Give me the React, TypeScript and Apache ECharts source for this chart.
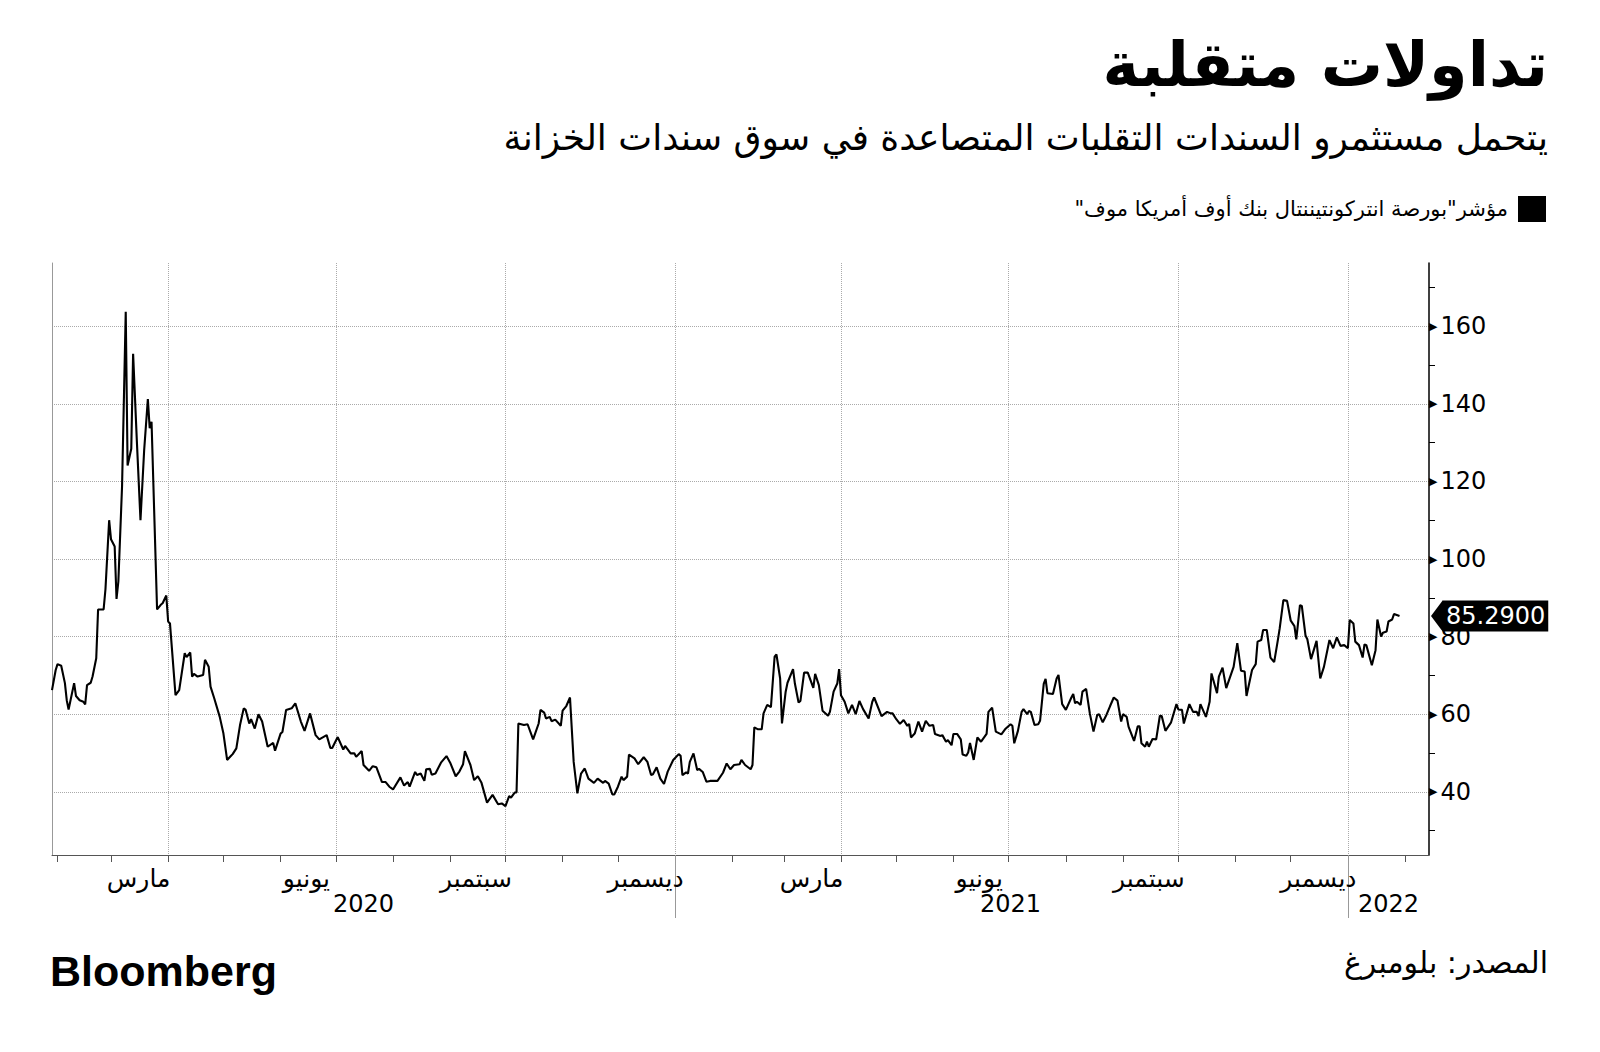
import React, { useEffect, useRef } from 'react';
import * as echarts from 'echarts';

// MOVE index (ICE BofAML MOVE)
const moveIndex: [string, number][] = [
  ['2020-01-29', 66.2], ['2020-01-31', 71.4], ['2020-02-01', 72.9], ['2020-02-03', 72.5],
  ['2020-02-05', 68], ['2020-02-06', 63.6], ['2020-02-07', 61.2], ['2020-02-10', 68],
  ['2020-02-11', 64.7], ['2020-02-13', 63.6], ['2020-02-15', 63.2], ['2020-02-16', 62.5],
  ['2020-02-17', 67.5], ['2020-02-19', 68.1], ['2020-02-20', 69.7], ['2020-02-22', 74.4],
  ['2020-02-23', 87], ['2020-02-26', 87], ['2020-02-27', 92.2], ['2020-02-29', 110],
  ['2020-03-01', 105.1], ['2020-03-03', 103.2], ['2020-03-04', 89.7], ['2020-03-05', 94.2],
  ['2020-03-07', 118.7], ['2020-03-09', 163.7], ['2020-03-10', 124.1], ['2020-03-12', 128.4],
  ['2020-03-13', 152.9], ['2020-03-15', 130.7], ['2020-03-17', 110], ['2020-03-19', 128.1],
  ['2020-03-21', 141.2], ['2020-03-22', 133.7], ['2020-03-23', 135.4], ['2020-03-26', 87],
  ['2020-03-28', 88.2], ['2020-03-29', 88.6], ['2020-03-31', 90.6], ['2020-04-01', 83.9],
  ['2020-04-02', 83.4], ['2020-04-05', 64.9], ['2020-04-07', 66.2], ['2020-04-10', 75.7],
  ['2020-04-11', 74.7], ['2020-04-13', 75.9], ['2020-04-14', 69.7], ['2020-04-15', 70.4],
  ['2020-04-17', 69.7], ['2020-04-20', 70.1], ['2020-04-21', 74], ['2020-04-23', 72.2],
  ['2020-04-24', 67.1], ['2020-04-26', 64.1], ['2020-04-29', 59.3], ['2020-05-01', 55],
  ['2020-05-03', 48.2], ['2020-05-05', 49.2], ['2020-05-06', 49.7], ['2020-05-08', 51.2],
  ['2020-05-10', 57.2], ['2020-05-12', 61.5], ['2020-05-13', 61.2], ['2020-05-15', 57.6],
  ['2020-05-16', 58.7], ['2020-05-18', 56.3], ['2020-05-20', 60], ['2020-05-22', 58.1],
  ['2020-05-25', 51.6], ['2020-05-28', 52.6], ['2020-05-29', 50.6], ['2020-06-01', 55],
  ['2020-06-02', 55.4], ['2020-06-04', 61.1], ['2020-06-07', 61.5], ['2020-06-09', 62.8],
  ['2020-06-12', 58.1], ['2020-06-14', 55.7], ['2020-06-17', 60.2], ['2020-06-20', 54.6],
  ['2020-06-22', 53.5], ['2020-06-26', 54.6], ['2020-06-28', 51.3], ['2020-06-29', 51.3],
  ['2020-07-02', 54.1], ['2020-07-05', 50.9], ['2020-07-06', 51.8], ['2020-07-09', 49.9],
  ['2020-07-11', 49.9], ['2020-07-12', 49], ['2020-07-15', 50.5], ['2020-07-16', 46.9],
  ['2020-07-19', 45.4], ['2020-07-21', 46.6], ['2020-07-23', 46.3], ['2020-07-26', 42.5],
  ['2020-07-28', 42.5], ['2020-07-30', 41.3], ['2020-08-01', 40.6], ['2020-08-05', 43.7],
  ['2020-08-07', 41.6], ['2020-08-09', 42.5], ['2020-08-10', 41.3], ['2020-08-13', 45.1],
  ['2020-08-14', 44.3], ['2020-08-16', 44.7], ['2020-08-18', 42.8], ['2020-08-19', 45.8],
  ['2020-08-21', 45.9], ['2020-08-22', 44.4], ['2020-08-24', 44.7], ['2020-08-27', 47.5],
  ['2020-08-30', 49.2], ['2020-09-01', 47.5], ['2020-09-04', 44], ['2020-09-06', 45.2],
  ['2020-09-08', 47.1], ['2020-09-09', 50.5], ['2020-09-12', 46.9], ['2020-09-14', 43],
  ['2020-09-16', 44], ['2020-09-18', 42.3], ['2020-09-21', 37.2], ['2020-09-24', 39.2],
  ['2020-09-27', 36.8], ['2020-09-29', 37], ['2020-10-01', 36.3], ['2020-10-03', 38.9],
  ['2020-10-04', 38.5], ['2020-10-06', 39.8], ['2020-10-07', 39.8], ['2020-10-08', 57.6],
  ['2020-10-11', 57.2], ['2020-10-13', 57.4], ['2020-10-16', 53.5], ['2020-10-19', 57.6],
  ['2020-10-20', 61.1], ['2020-10-22', 60.4], ['2020-10-23', 58.9], ['2020-10-25', 59.3],
  ['2020-10-26', 58.2], ['2020-10-28', 58.6], ['2020-10-31', 57], ['2020-11-01', 60.9],
  ['2020-11-03', 62.1], ['2020-11-05', 64.3], ['2020-11-07', 47.7], ['2020-11-09', 39.6],
  ['2020-11-11', 44.7], ['2020-11-13', 46], ['2020-11-15', 43.4], ['2020-11-18', 42.3],
  ['2020-11-20', 43.4], ['2020-11-23', 42.3], ['2020-11-24', 42.8], ['2020-11-26', 42.1],
  ['2020-11-28', 39.3], ['2020-11-29', 39.3], ['2020-12-01', 41.3], ['2020-12-03', 43.9],
  ['2020-12-04', 43], ['2020-12-06', 43.9], ['2020-12-07', 49.6], ['2020-12-10', 48.6],
  ['2020-12-12', 47.1], ['2020-12-15', 48.9], ['2020-12-17', 47.7], ['2020-12-19', 44.3],
  ['2020-12-20', 44.5], ['2020-12-22', 46.3], ['2020-12-24', 43.4], ['2020-12-26', 42],
  ['2020-12-28', 45.2], ['2020-12-31', 48.2], ['2021-01-03', 49.7], ['2021-01-04', 49.3],
  ['2021-01-05', 44.3], ['2021-01-07', 45], ['2021-01-08', 44.7], ['2021-01-09', 47.7],
  ['2021-01-11', 49.9], ['2021-01-13', 45.6], ['2021-01-14', 45.9], ['2021-01-16', 45.1],
  ['2021-01-18', 42.6], ['2021-01-20', 42.8], ['2021-01-24', 42.8], ['2021-01-27', 44.9],
  ['2021-01-29', 47.3], ['2021-01-31', 45.8], ['2021-02-02', 46.9], ['2021-02-05', 47.1],
  ['2021-02-06', 48.2], ['2021-02-08', 46.9], ['2021-02-11', 45.8], ['2021-02-12', 46.9],
  ['2021-02-13', 56.6], ['2021-02-15', 56.1], ['2021-02-17', 56.1], ['2021-02-18', 60.2],
  ['2021-02-20', 62.4], ['2021-02-22', 61.8], ['2021-02-24', 74.8], ['2021-02-25', 75.4],
  ['2021-02-27', 69.2], ['2021-02-28', 57.6], ['2021-03-02', 65.8], ['2021-03-03', 68.1],
  ['2021-03-06', 71.6], ['2021-03-07', 67.9], ['2021-03-09', 63], ['2021-03-10', 63.4],
  ['2021-03-12', 70.7], ['2021-03-14', 70.7], ['2021-03-17', 66.8], ['2021-03-18', 70.4],
  ['2021-03-20', 67.5], ['2021-03-22', 60.9], ['2021-03-25', 59.6], ['2021-03-26', 60.6],
  ['2021-03-28', 65.8], ['2021-03-30', 67.9], ['2021-03-31', 71.6], ['2021-04-01', 64.9],
  ['2021-04-03', 63.2], ['2021-04-05', 60.2], ['2021-04-07', 62.4], ['2021-04-09', 60],
  ['2021-04-11', 63.4], ['2021-04-13', 61.3], ['2021-04-16', 58.9], ['2021-04-18', 63.2],
  ['2021-04-19', 64.3], ['2021-04-23', 59.5], ['2021-04-26', 60.6], ['2021-04-28', 60.2],
  ['2021-04-29', 60.2], ['2021-05-01', 58.7], ['2021-05-03', 57.5], ['2021-05-05', 58.5],
  ['2021-05-07', 57], ['2021-05-08', 57.5], ['2021-05-09', 54], ['2021-05-11', 55],
  ['2021-05-13', 58.1], ['2021-05-15', 55.5], ['2021-05-17', 58.3], ['2021-05-19', 57],
  ['2021-05-21', 57.2], ['2021-05-22', 54.9], ['2021-05-25', 54.4], ['2021-05-26', 54.6],
  ['2021-05-28', 52.9], ['2021-05-29', 53.3], ['2021-05-31', 52], ['2021-06-01', 54.9],
  ['2021-06-03', 54.9], ['2021-06-05', 53.5], ['2021-06-06', 49.6], ['2021-06-08', 49.3],
  ['2021-06-09', 50.1], ['2021-06-10', 52.6], ['2021-06-12', 48.2], ['2021-06-14', 54],
  ['2021-06-16', 52.9], ['2021-06-19', 54.9], ['2021-06-20', 60.6], ['2021-06-22', 61.7],
  ['2021-06-24', 55.5], ['2021-06-27', 54.8], ['2021-06-29', 56.1], ['2021-07-02', 57.4],
  ['2021-07-03', 57], ['2021-07-04', 52.5], ['2021-07-06', 55.7], ['2021-07-08', 60.6],
  ['2021-07-09', 61.3], ['2021-07-11', 60], ['2021-07-12', 60.8], ['2021-07-13', 60.6],
  ['2021-07-15', 57.2], ['2021-07-17', 57.4], ['2021-07-18', 58.3], ['2021-07-20', 67.8],
  ['2021-07-21', 69.1], ['2021-07-22', 65.4], ['2021-07-25', 65.2], ['2021-07-27', 69.2],
  ['2021-07-28', 70.1], ['2021-07-30', 62.6], ['2021-08-01', 61.1], ['2021-08-04', 64.3],
  ['2021-08-05', 65.2], ['2021-08-06', 62.8], ['2021-08-07', 63.2], ['2021-08-09', 62.4],
  ['2021-08-10', 65.8], ['2021-08-12', 66.5], ['2021-08-14', 60.2], ['2021-08-16', 55.5],
  ['2021-08-18', 59.8], ['2021-08-19', 60], ['2021-08-21', 57.9], ['2021-08-23', 59.8],
  ['2021-08-25', 62.1], ['2021-08-27', 64.3], ['2021-08-29', 63.5], ['2021-08-31', 58.1],
  ['2021-09-01', 60], ['2021-09-03', 59.3], ['2021-09-04', 56.8], ['2021-09-07', 53.1],
  ['2021-09-09', 56.9], ['2021-09-10', 56.9], ['2021-09-11', 52.5], ['2021-09-13', 51.6],
  ['2021-09-14', 52.9], ['2021-09-15', 51.6], ['2021-09-17', 53.6], ['2021-09-19', 53.5],
  ['2021-09-21', 59.6], ['2021-09-22', 59.5], ['2021-09-24', 55.7], ['2021-09-27', 57.8],
  ['2021-09-30', 62.6], ['2021-10-01', 61.2], ['2021-10-03', 61.1], ['2021-10-04', 57.6],
  ['2021-10-07', 62.6], ['2021-10-09', 60.6], ['2021-10-11', 60.6], ['2021-10-12', 59.5],
  ['2021-10-13', 62.6], ['2021-10-16', 59.3], ['2021-10-18', 63.2], ['2021-10-19', 70.5],
  ['2021-10-22', 65.4], ['2021-10-23', 69.7], ['2021-10-25', 72], ['2021-10-27', 66.7],
  ['2021-10-31', 72.2], ['2021-11-02', 78.3], ['2021-11-04', 71.2], ['2021-11-06', 71],
  ['2021-11-07', 64.7], ['2021-11-10', 71.4], ['2021-11-12', 72.9], ['2021-11-13', 78.7],
  ['2021-11-15', 79.1], ['2021-11-16', 81.7], ['2021-11-18', 81.7], ['2021-11-20', 74.6],
  ['2021-11-22', 73.4], ['2021-11-24', 79.1], ['2021-11-25', 82.1], ['2021-11-27', 89.4],
  ['2021-11-29', 89.2], ['2021-12-01', 84.1], ['2021-12-03', 82.7], ['2021-12-04', 79.3],
  ['2021-12-06', 88.1], ['2021-12-07', 87.9], ['2021-12-09', 80.3], ['2021-12-10', 79.3],
  ['2021-12-12', 74.2], ['2021-12-15', 78.9], ['2021-12-17', 69.2], ['2021-12-19', 72.2],
  ['2021-12-22', 79.1], ['2021-12-24', 77], ['2021-12-26', 79.8], ['2021-12-28', 77.6],
  ['2021-12-30', 77.8], ['2022-01-01', 77], ['2022-01-02', 84.3], ['2022-01-04', 83.4],
  ['2022-01-05', 78.7], ['2022-01-07', 77.8], ['2022-01-09', 74.6], ['2022-01-10', 78],
  ['2022-01-11', 77.8], ['2022-01-14', 72.6], ['2022-01-16', 76.5], ['2022-01-17', 84.4],
  ['2022-01-19', 80], ['2022-01-20', 81], ['2022-01-22', 81.3], ['2022-01-23', 83.9],
  ['2022-01-25', 84.4], ['2022-01-26', 85.8], ['2022-01-29', 85.29],
];

const seriesName = 'مؤشر"بورصة انتركونتيننتال بنك أوف أمريكا موف"\u200F';
const titleText = 'تداولات متقلبة';
const subtitleText = 'يتحمل مستثمرو السندات التقلبات المتصاعدة في سوق سندات الخزانة';
const sourceText = 'المصدر: بلومبرغ';
const brandText = 'Bloomberg';

const xMinDate = '2020-01-29';
const xMaxDate = '2022-02-14';
const yMin = 23.7;
const yMax = 176.3;

const quarterStarts = ['2020-04-01', '2020-07-01', '2020-10-01', '2021-01-01', '2021-04-01', '2021-07-01', '2021-10-01', '2022-01-01'];
const monthStarts = [
  '2020-02-01', '2020-03-01', '2020-04-01', '2020-05-01', '2020-06-01', '2020-07-01', '2020-08-01',
  '2020-09-01', '2020-10-01', '2020-11-01', '2020-12-01', '2021-01-01', '2021-02-01', '2021-03-01',
  '2021-04-01', '2021-05-01', '2021-06-01', '2021-07-01', '2021-08-01', '2021-09-01', '2021-10-01',
  '2021-11-01', '2021-12-01', '2022-01-01', '2022-02-01',
];
const monthLabelDates = ['2020-03-16', '2020-06-15', '2020-09-15', '2020-12-16', '2021-03-16', '2021-06-15', '2021-09-15', '2021-12-16'];
const monthLabelNames = ['مارس', 'يونيو', 'سبتمبر', 'ديسمبر', 'مارس', 'يونيو', 'سبتمبر', 'ديسمبر'];
const yearLabelDates = ['2020-07-16', '2021-07-02', '2022-01-23'];
const yearLabelNames = ['2020', '2021', '2022'];
const yearBreaks = ['2021-01-01', '2022-01-01'];
const yMajorTicks = [40, 60, 80, 100, 120, 140, 160];
const yMinorTicks = [30, 50, 70, 90, 110, 130, 150, 170];

const ts = (s: string) => {
  const [y, m, d] = s.split('-').map(Number);
  return new Date(y, m - 1, d).getTime();
};

export default function App() {
  const ref = useRef<HTMLDivElement>(null);

  useEffect(() => {
    if (!ref.current) return;
    const chart = echarts.init(ref.current, null, { renderer: 'svg' });
    const xMin = ts(xMinDate);
    const xMax = ts(xMaxDate);
    const monthMap: Record<number, string> = {};
    monthLabelDates.forEach((d, i) => (monthMap[ts(d)] = monthLabelNames[i]));
    const yearMap: Record<number, string> = {};
    yearLabelDates.forEach((d, i) => (yearMap[ts(d)] = yearLabelNames[i]));
    const lastValue = moveIndex[moveIndex.length - 1][1];
    const seriesData = moveIndex.map(([d, v]) => [ts(d), v]);
    const font = 'DejaVu Sans';

    const baseX = { type: 'value', min: xMin, max: xMax, position: 'bottom', gridIndex: 0, scale: true } as any;
    const baseY = { type: 'value', min: yMin, max: yMax, gridIndex: 0 } as any;

    chart.setOption({
      animation: false,
      backgroundColor: '#fff',
      textStyle: { fontFamily: font },
      grid: { left: 52, right: 171, top: 263, bottom: 197, containLabel: false },
      legend: {
        data: [seriesName],
        right: 54,
        top: 196,
        padding: 0,
        align: 'right',
        icon: 'rect',
        itemWidth: 28,
        itemHeight: 26,
        itemStyle: { color: '#000' },
        textStyle: { fontSize: 21, fontFamily: font, color: '#000', padding: [0, 5, 0, 0] },
        selectedMode: false,
      },
      xAxis: [
        {
          ...baseX,
          axisLine: { show: true, lineStyle: { color: '#555', width: 1 } },
          axisTick: { show: false, customValues: quarterStarts.map(ts) },
          splitLine: { show: true, lineStyle: { color: '#aaa', type: 'dotted', width: 1 } },
          axisLabel: {
            show: true,
            customValues: monthLabelDates.map(ts),
            formatter: (v: number) => monthMap[v] || '',
            fontSize: 25,
            fontFamily: font,
            color: '#000',
            margin: 11,
            align: 'center',
          },
        },
        {
          ...baseX,
          axisLine: { show: false },
          axisTick: { show: true, customValues: monthStarts.map(ts), length: 7, lineStyle: { color: '#555', width: 1 } },
          axisLabel: { show: false },
          splitLine: { show: false },
        },
        {
          ...baseX,
          axisLine: { show: false },
          axisTick: { show: true, customValues: yearBreaks.map(ts), length: 63, lineStyle: { color: '#999', width: 1 } },
          axisLabel: {
            show: true,
            customValues: yearLabelDates.map(ts),
            formatter: (v: number) => yearMap[v] || '',
            fontSize: 24,
            fontFamily: font,
            color: '#000',
            margin: 37,
            align: 'center',
          },
          splitLine: { show: false },
        },
      ],
      yAxis: [
        {
          ...baseY,
          position: 'right',
          axisLine: { show: true, lineStyle: { color: '#000', width: 1.5 } },
          axisTick: { show: false, customValues: yMajorTicks },
          splitLine: { show: true, lineStyle: { color: '#aaa', type: 'dotted', width: 1 } },
          axisLabel: {
            show: true,
            customValues: yMajorTicks,
            margin: 0,
            formatter: (v: number) => `{t|▶}{n|${v}}`,
            rich: {
              t: { fontSize: 11, color: '#000', fontFamily: font },
              n: { fontSize: 24, color: '#000', fontFamily: font, padding: [0, 0, 0, 3] },
            },
          },
        },
        {
          ...baseY,
          position: 'right',
          axisLine: { show: false },
          axisTick: { show: true, customValues: yMinorTicks, length: 6, lineStyle: { color: '#000', width: 1 } },
          axisLabel: { show: false },
          splitLine: { show: false },
        },
        {
          ...baseY,
          position: 'left',
          axisLine: { show: true, lineStyle: { color: '#999', width: 1 } },
          axisTick: { show: false },
          axisLabel: { show: false },
          splitLine: { show: false },
        },
      ],
      series: [
        {
          name: seriesName,
          type: 'line',
          xAxisIndex: 0,
          yAxisIndex: 0,
          data: seriesData,
          showSymbol: false,
          symbol: 'none',
          lineStyle: { color: '#000', width: 2.1 },
          itemStyle: { color: '#000' },
          silent: true,
          markPoint: {
            silent: true,
            symbol: 'path://M0,16L12,0L12,32Z',
            symbolSize: [12, 32],
            symbolKeepAspect: false,
            itemStyle: { color: '#000' },
            data: [
              {
                coord: [xMax, lastValue],
                symbolOffset: [8, 0],
                label: {
                  show: true,
                  position: 'right',
                  distance: 0,
                  formatter: lastValue.toFixed(4),
                  backgroundColor: '#000',
                  color: '#fff',
                  fontSize: 24,
                  fontFamily: font,
                  padding: [4, 3, 3, 3],
                },
              },
            ],
          },
        },
      ],
      graphic: [
        { type: 'text', right: 52, top: 33, style: { text: titleText, font: `bold 62px "${font}"`, fill: '#000' } },
        { type: 'text', right: 52, top: 119, style: { text: subtitleText, font: `36px "${font}"`, fill: '#000' } },
        { type: 'text', right: 52, top: 947, style: { text: sourceText, font: `30px "${font}"`, fill: '#000' } },
        { type: 'text', left: 50, top: 949, style: { text: brandText, font: 'bold 43px "Liberation Sans"', fill: '#000' } },
      ],
    } as any);

    return () => chart.dispose();
  }, []);

  return <div ref={ref} style={{ position: 'absolute', left: 0, top: 0, width: 1600, height: 1052 }} />;
}
